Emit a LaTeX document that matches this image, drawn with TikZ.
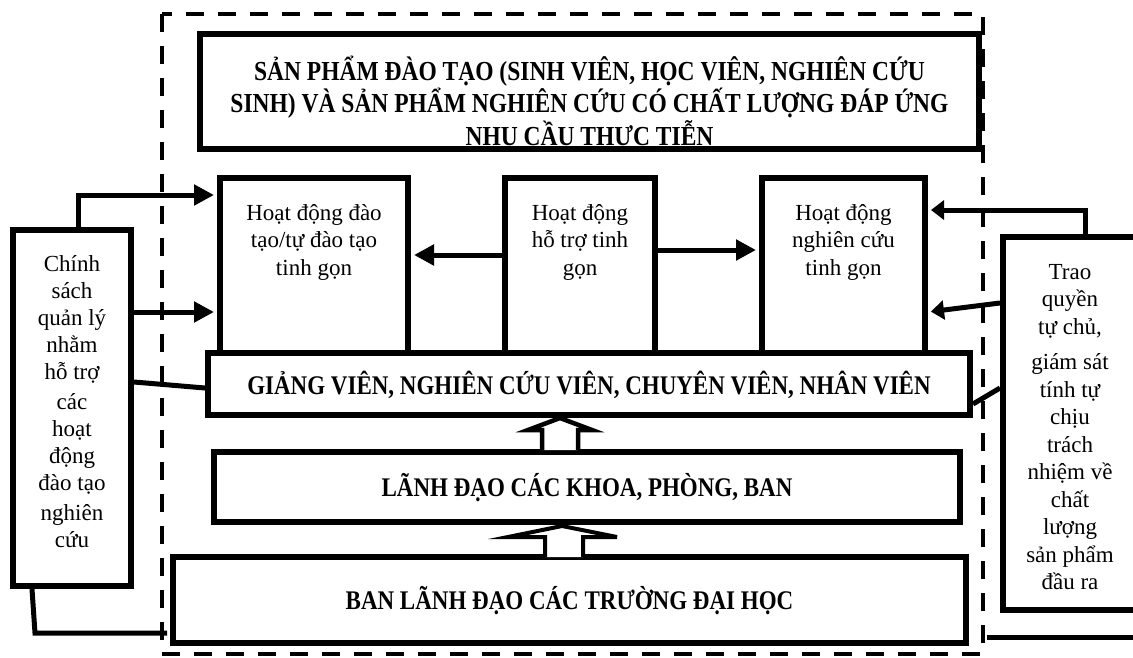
\documentclass[tikz,border=0pt]{standalone}
\usepackage{fontspec}
\setmainfont{Liberation Serif}
\usepackage{graphicx}
\usetikzlibrary{arrows.meta}
\newcommand\vst[1]{\scalebox{1}[1.17]{#1}}
\begin{document}
\begin{tikzpicture}[x=1pt,y=-1pt,
  box/.style={draw,line width=6pt,fill=white,inner sep=0pt},
  conn/.style={line width=5pt},
  arr/.style={conn,shorten >=3pt,-{Triangle[length=20pt,width=20pt]}},
  arrs/.style={conn,shorten >=3pt,-{Triangle[length=13pt,width=19pt]}},
  dsh/.style={line width=4.5pt,dash pattern=on 18pt off 14pt},
  txt/.style={font=\fontsize{23}{27.5}\selectfont,align=center,inner sep=0pt},
  captext/.style={font=\bfseries\fontsize{23}{32.5}\selectfont,align=center,inner sep=0pt},
  blk/.style={line width=4.5pt,fill=white,line join=miter},
]
\useasboundingbox (0,0) rectangle (1133,657);
\draw[dsh] (162,14) rectangle (983,654);

% boxes
\node[box,minimum width=779pt,minimum height=115pt] (prod) at (589.5,91.5) {};
\node[box,minimum width=188pt,minimum height=175pt] (actL) at (314,265.5) {};
\node[box,minimum width=150pt,minimum height=175pt] (actM) at (580,265.5) {};
\node[box,minimum width=163pt,minimum height=175pt] (actR) at (843.5,265.5) {};
\node[box,minimum width=762pt,minimum height=62pt] (giang) at (589,384) {};
\node[box,minimum width=746pt,minimum height=70pt] (lanh) at (587,487) {};
\node[box,minimum width=793pt,minimum height=86pt] (ban) at (569.5,600) {};
\node[box,minimum width=118pt,minimum height=356pt] (cs) at (72,408) {};
\node[box,minimum width=157pt,minimum height=373pt] (tq) at (1081.5,423.5) {};

% texts
\node[captext,font=\bfseries\fontsize{23.5}{32.5}\selectfont] (prodT) at (589.5,103) {\vst{SẢN PHẨM ĐÀO TẠO (SINH VIÊN, HỌC VIÊN, NGHIÊN CỨU}\\\vst{SINH) VÀ SẢN PHẨM NGHIÊN CỨU CÓ CHẤT LƯỢNG ĐÁP ỨNG}\\\vst{NHU CẦU THỰC TIỄN}};
\node[txt] (actLT) at (314,242) {Hoạt động đào\\tạo/tự đào tạo\\tinh gọn};
\node[txt] (actMT) at (580,242) {Hoạt động\\hỗ trợ tinh\\gọn};
\node[txt] (actRT) at (843.5,242) {Hoạt động\\nghiên cứu\\tinh gọn};
\node[captext] (giangT) at (589,385) {\vst{GIẢNG VIÊN, NGHIÊN CỨU VIÊN, CHUYÊN VIÊN, NHÂN VIÊN}};
\node[captext] (lanhT) at (587,488) {\vst{LÃNH ĐẠO CÁC KHOA, PHÒNG, BAN}};
\node[captext] (banT) at (569.5,601) {\vst{BAN LÃNH ĐẠO CÁC TRƯỜNG ĐẠI HỌC}};
\node[txt,font=\fontsize{23}{27}\selectfont] (csT) at (72,402) {Chính\\sách\\quản lý\\nhằm\\hỗ trợ\\[3pt]các\\hoạt\\động\\đào tạo\\[3pt]nghiên\\cứu};
\node[txt] (tqT) at (1070,427) {Trao\\quyền\\tự chủ,\\[8pt]giám sát\\tính tự\\chịu\\trách\\nhiệm về\\chất\\lượng\\sản phẩm\\đầu ra};

% connectors left
\coordinate (a1) at (78,195);
\draw[arr] (cs.north -| a1) -- (a1) -- (a1 -| actL.west);
\draw[arr] (cs.east |- 0,312) -- (actL.west |- 0,312);
\draw[conn] (cs.east |- 0,382) -- (giang.west |- 0,388);
\coordinate (b1) at (35,633);
\coordinate (b2) at (167,633);
\draw[conn] (cs.south -| 32,0) -- (b1) -- (b2);

% connectors right
\coordinate (c1) at (1085,210);
\draw[arrs] (tq.north -| c1) -- (c1) -- (c1 -| actR.east);
\draw[arrs] (tq.west |- 0,303) -- (actR.east |- 0,312);
\draw[conn] (giang.east |- 0,404) -- (tq.west |- 0,388);
\coordinate (d1) at (987,637);
\coordinate (d2) at (1140,637);
\draw[conn] (d1) -- (d2);

% middle
\draw[arr] (actM.west |- 0,255) -- (actL.east |- 0,255);
\draw[arr] (actM.east |- 0,250) -- (actR.west |- 0,250);

% block arrows
\draw[blk] (542,450) -- (542,430) -- (528,430) -- (560,418) -- (592,430) -- (578,430) -- (578,450);
\draw[blk,line width=4pt] (545,557) -- (545,537) -- (508,537) -- (562,526) -- (617,537) -- (583,537) -- (583,557);
\end{tikzpicture}
\end{document}
